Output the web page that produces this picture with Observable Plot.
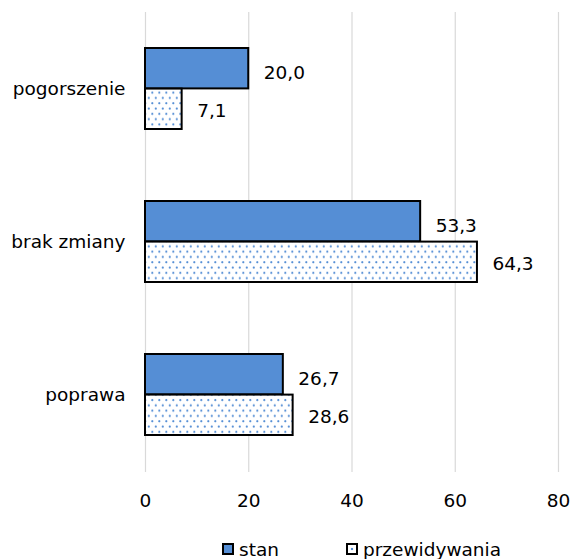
<!DOCTYPE html>
<html>
<head>
<meta charset="utf-8">
<script src="https://cdn.jsdelivr.net/npm/d3@7"></script>
<script src="https://cdn.jsdelivr.net/npm/@observablehq/plot@0.6"></script>
<style>
  body { margin: 0; background: #fff; font-family: "DejaVu Sans", Verdana, sans-serif; }
  #wrap { position: relative; width: 571px; height: 559px; overflow: hidden; }
  #legend { position: absolute; left: 0; top: 538px; width: 571px; height: 22px; font-size: 18.5px; color: #000; }
  .item { position: absolute; top: 0; display: flex; align-items: center; gap: 5px; height: 22px; }
  .sw { width: 12px; height: 12px; box-sizing: border-box; border: 2px solid #000; }
</style>
</head>
<body>
<svg width="0" height="0" style="position:absolute">
  <defs>
    <pattern id="dots" width="7" height="10.6" patternUnits="userSpaceOnUse">
      <rect width="7" height="10.6" fill="#fff"></rect>
      <circle cx="1.8" cy="2.6" r="1.1" fill="#558ED5"></circle>
      <circle cx="5.3" cy="7.9" r="1.1" fill="#558ED5"></circle>
    </pattern>
  </defs>
</svg>
<div id="wrap">
  <div id="chart"></div>
  <div id="legend">
    <div class="item" style="left:222px"><div class="sw" style="background:#558ED5"></div><span>stan</span></div>
    <div class="item" style="left:346px"><div class="sw" style="background:#fff radial-gradient(circle, #558ED5 1.3px, transparent 1.6px) center/8px 8px"></div><span>przewidywania</span></div>
  </div>
</div>
<script>
// Categories and values (percent)
const categories = ["pogorszenie", "brak zmiany", "poprawa"];
const stan = [20.0, 53.3, 26.7];
const przewidywania = [7.1, 64.3, 28.6];
const xTicks = [0, 20, 40, 60, 80];

const rowsStan = categories.map((c, i) => ({category: c, value: stan[i]}));
const rowsPrzew = categories.map((c, i) => ({category: c, value: przewidywania[i]}));
const fmt = v => v.toFixed(1).replace(".", ",");

const half = 40.6; // half of the band height: each series takes one half

const chart = Plot.plot({
  width: 571,
  height: 522,
  marginTop: 12,
  marginBottom: 50,
  marginLeft: 145,
  marginRight: 13,
  style: {fontFamily: "DejaVu Sans, Verdana, sans-serif", fontSize: "18.5px", color: "#000", background: "#fff"},
  x: {domain: [0, 80], ticks: xTicks, tickFormat: d => String(d), tickSize: 0, tickPadding: 21, label: null},
  y: {domain: categories, paddingInner: 0.47, paddingOuter: 0.235, tickSize: 0, tickPadding: 20, label: null},
  marks: [
    Plot.ruleX(xTicks, {stroke: "#d9d9d9", strokeWidth: 1.2}),
    Plot.barX(rowsStan, {x: "value", y: "category", fill: "#558ED5", stroke: "#000", strokeWidth: 2, insetBottom: half}),
    Plot.barX(rowsPrzew, {x: "value", y: "category", fill: "url(#dots)", stroke: "#000", strokeWidth: 2, insetTop: half}),
    Plot.text(rowsStan, {x: "value", y: "category", text: d => fmt(d.value), dx: 15, dy: -16, textAnchor: "start", fontSize: 18.5, fill: "#000"}),
    Plot.text(rowsPrzew, {x: "value", y: "category", text: d => fmt(d.value), dx: 15, dy: 22, textAnchor: "start", fontSize: 18.5, fill: "#000"})
  ]
});
document.getElementById("chart").appendChild(chart);
</script>
</body>
</html>
